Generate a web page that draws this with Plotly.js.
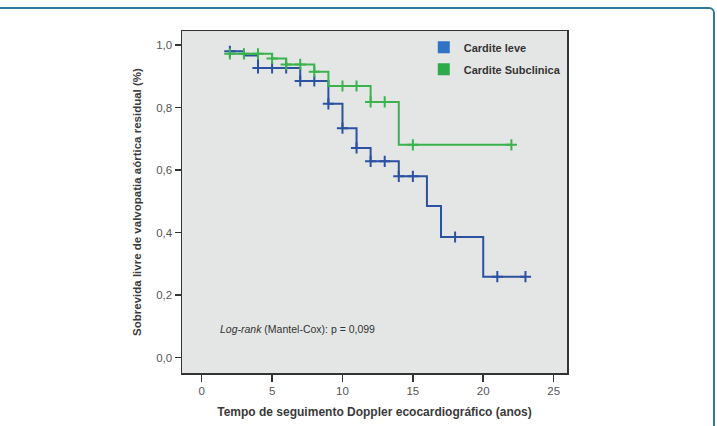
<!DOCTYPE html>
<html>
<head>
<meta charset="utf-8">
<script src="https://cdn.plot.ly/plotly-3.0.1.min.js"></script>
<style>
  html, body { margin: 0; padding: 0; background: #ffffff; overflow: hidden; }
  #frame { position: absolute; left: -12px; top: 7px; width: 727px; height: 440px;
           border: 2px solid #2f7a98; border-radius: 6px; box-sizing: border-box; pointer-events: none; }
  #chart { position: absolute; left: 0; top: 0; width: 717px; height: 426px; }
</style>
</head>
<body>
<div id="chart"></div>
<div id="frame"></div>
<script>
// ---- Data (Kaplan-Meier curves) ----
const seriesNames = ["Cardite leve", "Cardite Subclinica"];
// Cardite leve: step times (years) and survival after each step
const leveTimes = [2, 3, 4, 7, 9, 10, 11, 12, 14, 16, 17, 20, 23];
const leveSurv  = [0.980, 0.967, 0.927, 0.885, 0.812, 0.734, 0.671, 0.628, 0.580, 0.485, 0.386, 0.259, 0.259];
const leveCensored = [2, 4, 5, 6, 7, 8, 9, 10, 11, 12, 13, 14, 15, 18, 21, 23];
// Cardite Subclinica
const subTimes = [2, 5, 6, 8, 9, 12, 14, 22];
const subSurv  = [0.972, 0.957, 0.938, 0.915, 0.869, 0.818, 0.681, 0.681];
const subCensored = [2, 3, 4, 5, 6, 7, 8, 10, 11, 12, 13, 15, 22];
const xTicks = [0, 5, 10, 15, 20, 25];
const yTicks = [0, 0.2, 0.4, 0.6, 0.8, 1.0];
const yTickText = ["0,0", "0,2", "0,4", "0,6", "0,8", "1,0"];
const noteText = "<i>Log-rank</i> (Mantel-Cox): p = 0,099";

function stepAt(times, surv, t) {
  let v = surv[0];
  for (let i = 0; i < times.length; i++) { if (times[i] <= t) v = surv[i]; }
  return v;
}

const blueLine = "#2b51a1", greenLine = "#3bb34c";
const blueLegend = "#2f72c6", greenLegend = "#2eaa4b";

const traces = [
  { x: leveTimes, y: leveSurv, mode: "lines", line: { shape: "hv", color: blueLine, width: 2 },
    showlegend: false, hoverinfo: "skip" },
  { x: subTimes, y: subSurv, mode: "lines", line: { shape: "hv", color: greenLine, width: 2 },
    showlegend: false, hoverinfo: "skip" },
  { x: leveCensored, y: leveCensored.map(t => stepAt(leveTimes, leveSurv, t)), mode: "markers",
    marker: { symbol: "cross-thin", size: 8, line: { color: blueLine, width: 2 } },
    showlegend: false, hoverinfo: "skip" },
  { x: subCensored, y: subCensored.map(t => stepAt(subTimes, subSurv, t)), mode: "markers",
    marker: { symbol: "cross-thin", size: 8, line: { color: greenLine, width: 2 } },
    showlegend: false, hoverinfo: "skip" },
  // legend entries
  { x: [null], y: [null], mode: "markers", name: seriesNames[0], legendgroup: "a",
    marker: { symbol: "square", size: 12, color: blueLegend } },
  { x: [null], y: [null], mode: "markers", name: seriesNames[1], legendgroup: "b",
    marker: { symbol: "square", size: 12, color: greenLegend } }
];

const axisFont = { family: "Liberation Sans, Arial, sans-serif", size: 11.5, color: "#555555" };
const xTitleFont = { family: "Liberation Sans, Arial, sans-serif", size: 12, color: "#3a3a3a", weight: "bold" };
const yTitleFont = { family: "Liberation Sans, Arial, sans-serif", size: 11.5, color: "#3a3a3a", weight: "bold" };

const layout = {
  width: 717, height: 426,
  margin: { l: 182, r: 150, t: 31, b: 53, pad: 0 },
  paper_bgcolor: "rgba(0,0,0,0)",
  plot_bgcolor: "#e4e6e6",
  separators: ",.",
  showlegend: true,
  legend: {
    x: 0.628, y: 0.995, xanchor: "left", yanchor: "top",
    bgcolor: "rgba(0,0,0,0)", borderwidth: 0,
    font: { family: "Liberation Sans, Arial, sans-serif", size: 11, color: "#333333", weight: "bold" },
    tracegroupgap: 3
  },
  xaxis: {
    range: [-1.4, 25.95], tickvals: xTicks, ticks: "outside", ticklen: 7, tickwidth: 1.5,
    tickcolor: "#333333", showline: true, linecolor: "#333333", linewidth: 1.5, mirror: true,
    showgrid: false, zeroline: false, tickfont: axisFont,
    title: { text: "Tempo de seguimento Doppler ecocardiográfico (anos)", font: xTitleFont, standoff: 11 }
  },
  yaxis: {
    range: [-0.049, 1.045], tickvals: yTicks, ticktext: yTickText, ticks: "outside", ticklen: 6,
    tickwidth: 1.5, tickcolor: "#333333", showline: true, linecolor: "#333333", linewidth: 1.5,
    mirror: true, showgrid: false, zeroline: false, tickfont: axisFont,
    title: { text: "Sobrevida livre de valvopatia aórtica residual (%)", font: yTitleFont, standoff: 12 }
  },
  annotations: [
    { text: noteText, xref: "paper", yref: "paper", x: 0.094, y: 0.129, xanchor: "left", yanchor: "middle",
      showarrow: false, font: { family: "Liberation Sans, Arial, sans-serif", size: 10.5, color: "#333333" } }
  ]
};

Plotly.newPlot("chart", traces, layout, { displayModeBar: false, staticPlot: true });
</script>
</body>
</html>
